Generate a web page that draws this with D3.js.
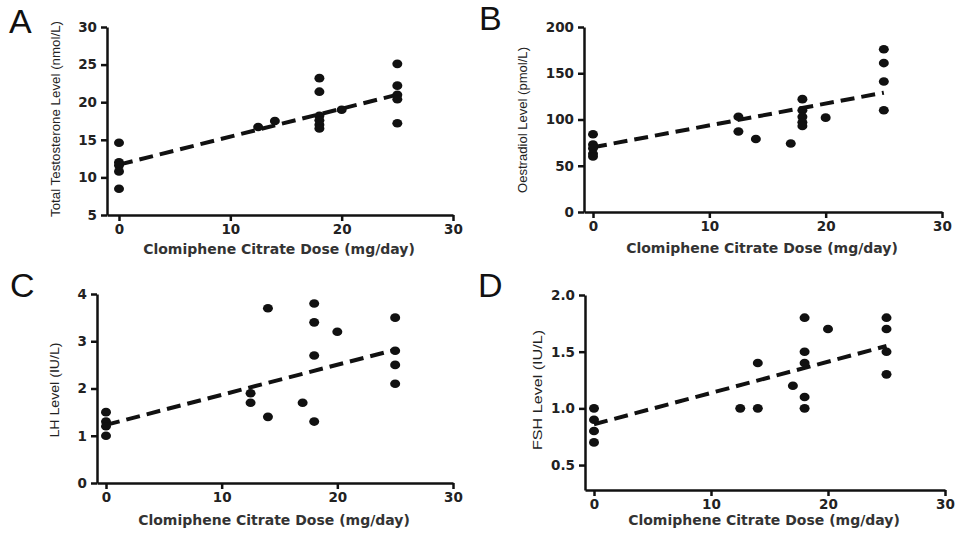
<!DOCTYPE html>
<html>
<head>
<meta charset="utf-8">
<script src="https://cdn.jsdelivr.net/npm/d3@7/dist/d3.min.js"></script>
<style>
  body { margin: 0; background: #fff; }
  svg { display: block; }
  .tick text { font-family: "DejaVu Sans", sans-serif; font-weight: bold; font-size: 13.5px; fill: #222; }
  .domain, .tick line { stroke: #111; stroke-width: 2.5; }
  .xlabel { font-family: "DejaVu Sans", sans-serif; font-weight: bold; font-size: 14px; fill: #333; }
  .ylabel { font-family: "Liberation Sans", Arial, sans-serif; font-size: 12px; fill: #222; }
  .letter { font-family: "Liberation Sans", Arial, sans-serif; font-size: 34px; fill: #111; }
</style>
</head>
<body>
<svg id="chart" width="958" height="544"></svg>
<script>
const testosteroneDose = [0, 0, 0, 0, 0, 12.5, 14, 18, 18, 18, 18, 18, 18, 20, 25, 25, 25, 25, 25];
const testosterone = [14.6, 12.0, 11.6, 10.8, 8.5, 16.7, 17.5, 23.2, 21.4, 18.2, 17.6, 17.0, 16.5, 19.0, 25.1, 22.2, 21.0, 20.4, 17.2];

const oestradiolDose = [0, 0, 0, 0, 0, 12.5, 12.5, 14, 17, 18, 18, 18, 18, 18, 20, 25, 25, 25, 25];
const oestradiol = [84, 73, 69, 63, 60, 103, 87, 79, 74, 122, 110, 103, 97, 93, 102, 176, 161, 141, 110];

const lhDose = [0, 0, 0, 0, 12.5, 12.5, 14, 14, 17, 18, 18, 18, 18, 20, 25, 25, 25, 25];
const lh = [1.5, 1.3, 1.2, 1.0, 1.9, 1.7, 3.7, 1.4, 1.7, 3.8, 3.4, 2.7, 1.3, 3.2, 3.5, 2.8, 2.5, 2.1];

const fshDose = [0, 0, 0, 0, 12.5, 14, 14, 17, 18, 18, 18, 18, 18, 20, 25, 25, 25, 25];
const fsh = [1.0, 0.9, 0.8, 0.7, 1.0, 1.4, 1.0, 1.2, 1.8, 1.5, 1.4, 1.1, 1.0, 1.7, 1.8, 1.7, 1.5, 1.3];

// fitted regression lines (ends at 0 and 25 mg/day)
const fitDose = [0, 25];
const fitTestosterone = [11.7, 21.0];
const fitOestradiol = [70, 129];
const fitLh = [1.23, 2.82];
const fitFsh = [0.86, 1.55];

const xTicks = [0, 10, 20, 30];
const testosteroneTicks = [5, 10, 15, 20, 25, 30];
const oestradiolTicks = [0, 50, 100, 150, 200];
const lhTicks = [0, 1, 2, 3, 4];
const fshTicks = [0.5, 1.0, 1.5, 2.0];

const xTitle = 'Clomiphene Citrate Dose (mg/day)';

const panels = [
  { letter: 'A', dose: testosteroneDose, values: testosterone, fit: fitTestosterone,
    yDomain: [5, 30], yTicks: testosteroneTicks, yFormat: d3.format('d'),
    yTitle: 'Total Testosterone Level (nmol/L)', yTitleLen: 196,
    box: { left: 107, x0: 119, x30: 453, top: 27, bottom: 215 },
    letterPos: { x: 9, y: 33 }, yTitleX: 56, yTitleY: 119, xTitleY: 254 },
  { letter: 'B', dose: oestradiolDose, values: oestradiol, fit: fitOestradiol,
    yDomain: [0, 200], yTicks: oestradiolTicks, yFormat: d3.format('d'),
    yTitle: 'Oestradiol Level (pmol/L)', yTitleLen: 146,
    box: { left: 584, x0: 593, x30: 942, top: 27, bottom: 212 },
    letterPos: { x: 479, y: 30 }, yTitleX: 523, yTitleY: 120, xTitleY: 253 },
  { letter: 'C', dose: lhDose, values: lh, fit: fitLh,
    yDomain: [0, 4], yTicks: lhTicks, yFormat: d3.format('d'),
    yTitle: 'LH Level (IU/L)', yTitleLen: 95,
    box: { left: 97, x0: 106, x30: 453, top: 294, bottom: 483 },
    letterPos: { x: 10, y: 297 }, yTitleX: 55, yTitleY: 390, xTitleY: 525 },
  { letter: 'D', dose: fshDose, values: fsh, fit: fitFsh,
    yDomain: [0.28, 2.0], yTicks: fshTicks, yFormat: d3.format('.1f'),
    yTitle: 'FSH Level  (IU/L)', yTitleLen: 120,
    box: { left: 585, x0: 594, x30: 945, top: 295, bottom: 490 },
    letterPos: { x: 478, y: 297 }, yTitleX: 538, yTitleY: 390, xTitleY: 525 },
];

const svg = d3.select('#chart');

panels.forEach(p => {
  const b = p.box;
  const unit = (b.x30 - b.x0) / 30;
  const x = d3.scaleLinear()
    .domain([-(b.x0 - b.left) / unit, 30])
    .range([b.left, b.x30]);
  const y = d3.scaleLinear().domain(p.yDomain).range([b.bottom, b.top]);

  const g = svg.append('g');

  g.append('g')
    .attr('transform', `translate(0,${b.bottom})`)
    .call(d3.axisBottom(x).tickValues(xTicks).tickSize(6).tickSizeOuter(0).tickPadding(3));

  g.append('g')
    .attr('transform', `translate(${b.left},0)`)
    .call(d3.axisLeft(y).tickValues(p.yTicks).tickFormat(p.yFormat).tickSize(6).tickSizeOuter(0).tickPadding(4));

  // regression line
  const fitPts = fitDose.map((d, i) => [d, p.fit[i]]);
  g.append('path')
    .attr('d', d3.line().x(d => x(d[0])).y(d => y(d[1]))(fitPts))
    .attr('fill', 'none')
    .attr('stroke', '#111')
    .attr('stroke-width', 4)
    .attr('stroke-dasharray', '14,7');

  g.selectAll('ellipse')
    .data(p.dose.map((d, i) => [d, p.values[i]]))
    .join('ellipse')
    .attr('cx', d => x(d[0]))
    .attr('cy', d => y(d[1]))
    .attr('rx', 5)
    .attr('ry', 4.3)
    .attr('fill', '#111');

  g.append('text')
    .attr('class', 'xlabel')
    .attr('x', (b.left + b.x30) / 2 - 1)
    .attr('y', p.xTitleY)
    .attr('text-anchor', 'middle')
    .text(xTitle);

  g.append('text')
    .attr('class', 'ylabel')
    .attr('transform', `translate(${p.yTitleX},${p.yTitleY}) rotate(-90)`)
    .attr('text-anchor', 'middle')
    .attr('dy', '0.35em')
    .attr('textLength', p.yTitleLen)
    .attr('lengthAdjust', 'spacingAndGlyphs')
    .text(p.yTitle);

  g.append('text')
    .attr('class', 'letter')
    .attr('x', p.letterPos.x)
    .attr('y', p.letterPos.y)
    .text(p.letter);
});
</script>
</body>
</html>
